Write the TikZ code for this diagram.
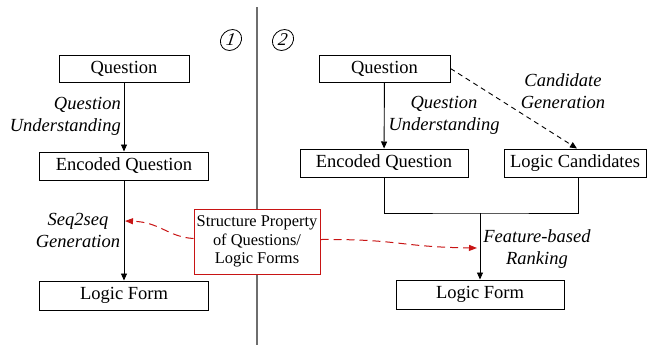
\documentclass[tikz,border=0pt]{standalone}
\usepackage{fontspec}
\setmainfont{Liberation Serif}
\newfontfamily\tms{Liberation Serif}
\usetikzlibrary{arrows.meta,calc}
\definecolor{redbox}{RGB}{200,20,20}
\definecolor{sepgray}{RGB}{110,110,110}
\tikzset{
  box/.style={draw, line width=1bp, inner sep=0pt, minimum height=28bp, font=\tms\fontsize{18.5bp}{22bp}\selectfont},
  lbl/.style={inner sep=0pt, align=center, font=\tms\fontsize{18.5bp}{22bp}\selectfont\itshape},
  arr/.style={line width=0.9bp, -{Triangle[length=7bp,width=6bp]}},
  redarr/.style={draw=redbox, line width=1bp, dash pattern=on 8bp off 5bp, -{Triangle[length=8bp,width=6bp]}, redbox},
  num/.style={draw, circle, line width=0.8bp, minimum size=21bp, inner sep=0pt, font=\tms\fontsize{18bp}{20bp}\selectfont\itshape, xslant=0.15}
}
\begin{document}
\begin{tikzpicture}[x=1bp,y=-1bp]
\useasboundingbox (0,0) rectangle (647,345);
\draw[sepgray, line width=2bp] (257,7) -- (257,345);
\node[num] (n1) at (231,40) {1};
\node[num] (n2) at (283,40) {2};
% left panel
\node[box, minimum width=130bp, minimum height=27bp] (Q1) at (124,68.5) {Question};
\node[box, minimum width=168bp] (E1) at (124,166) {Encoded Question};
\node[box, minimum width=168bp, minimum height=29bp] (L1) at (124,295.5) {Logic Form};
\draw[arr] (Q1) -- (E1);
\draw[arr] (E1) -- (L1);
\node[lbl, align=right, anchor=east] (u1) at (121,116) {Question\\Understanding};
\node[lbl] (s1) at (78,230) {Seq2seq\\Generation};
% right panel
\node[box, minimum width=131bp, minimum height=27bp] (Q2) at (384.5,68.5) {Question};
\node[box, minimum width=168bp] (E2) at (384,163) {Encoded Question};
\node[box, minimum width=142bp] (C2) at (575,163) {Logic Candidates};
\node[box, minimum width=168bp, minimum height=29bp] (L2) at (480,294.5) {Logic Form};
\draw[arr] (Q2) -- (E2);
\draw[arr, dash pattern=on 5bp off 4bp] (Q2.east) -- ($(C2.north)+(2,0)$);
\coordinate (j) at (480,213);
\draw[line width=0.9bp] (E2.south) |- (j) -| ($(C2.south)+(3,0)$);
\draw[arr] (j) -- (L2.north);
\node[lbl] (u2) at (444,115) {Question\\Understanding};
\node[lbl] (c2) at (563,91) {Candidate\\Generation};
\node[lbl] (f2) at (537,249) {Feature-based\\Ranking};
% red box
\node[draw=redbox, line width=1bp, fill=white, minimum width=126bp, minimum height=65bp, inner sep=0pt, align=center, font=\tms\fontsize{16.4bp}{18.8bp}\selectfont] (RB) at (257,241.5) {Structure Property\\of Questions/\\Logic Forms};
\coordinate (t1) at (125,221);
\coordinate (t2) at (477,248);
\draw[redarr] ($(RB.west)+(0,-3)$) .. controls (168,237) and (160,222) .. (t1);
\draw[redarr] ($(RB.east)+(0,-2)$) .. controls (400,239) and (400,247) .. (t2);
\end{tikzpicture}
\end{document}
